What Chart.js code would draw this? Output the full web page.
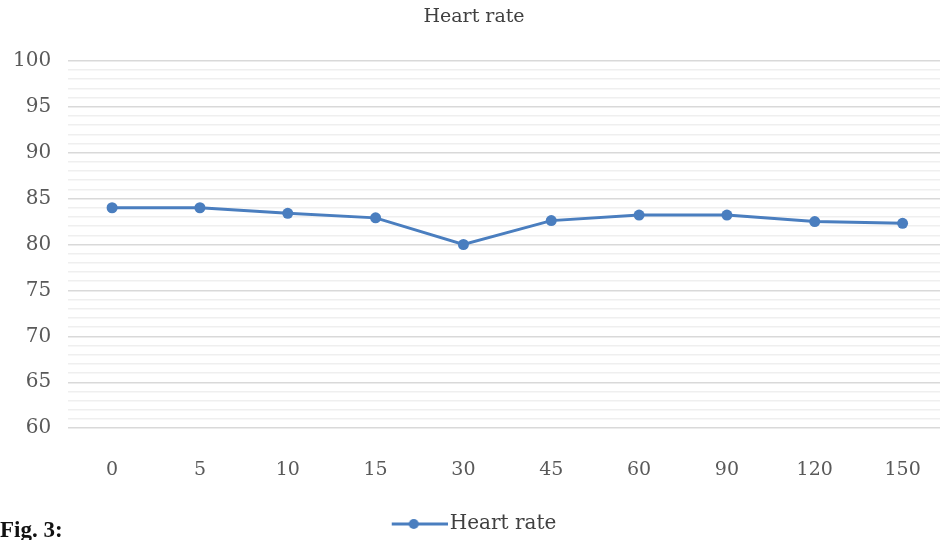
<!DOCTYPE html>
<html>
<head>
<meta charset="utf-8">
<script src="https://cdn.jsdelivr.net/npm/chart.js@4.4.0/dist/chart.umd.min.js"></script>
<style>
  html, body { margin: 0; padding: 0; background: #fff; overflow: hidden; }
  #wrap { position: relative; width: 940px; height: 540px; overflow: hidden; }
  #caption { position: absolute; left: 0; top: 517px; font: bold 23px "Liberation Serif", serif; color: #111; }
</style>
</head>
<body>
<div id="wrap">
  <canvas id="chart" width="952" height="540"></canvas>
  <div id="caption">Fig. 3:</div>
</div>
<script>
// données
const minutes = ['0', '5', '10', '15', '30', '45', '60', '90', '120', '150'];
const heartRate = [84.0, 84.0, 83.4, 82.9, 80.0, 82.6, 83.2, 83.2, 82.5, 82.3];
const yMin = 60;
const yMax = 100;

const lineColor = '#4a7ebf';

// petit symbole de légende : trait + rond
const legendIcon = document.createElement('canvas');
legendIcon.width = 64;
legendIcon.height = 12;
const ic = legendIcon.getContext('2d');
ic.strokeStyle = lineColor;
ic.lineWidth = 3;
ic.beginPath();
ic.moveTo(8, 6);
ic.lineTo(64, 6);
ic.stroke();
ic.fillStyle = lineColor;
ic.beginPath();
ic.arc(30, 6, 5, 0, Math.PI * 2);
ic.fill();

const ctx = document.getElementById('chart').getContext('2d');
const chart = new Chart(ctx, {
    type: 'line',
    data: {
        labels: minutes,
        datasets: [{
            label: 'Heart rate',
            data: heartRate,
            borderColor: lineColor,
            backgroundColor: lineColor,
            borderWidth: 3,
            pointRadius: 5.5,
            pointBackgroundColor: lineColor,
            pointBorderWidth: 0,
            tension: 0
        }]
    },
    options: {
        responsive: false,
        animation: false,
        layout: { padding: { left: -4, right: 0, top: 0, bottom: -4 } },
        plugins: {
            title: {
                display: true,
                text: 'Heart rate',
                color: '#404040',
                font: { family: 'DejaVu Serif', size: 19, weight: 'normal' },
                padding: { top: 6, bottom: 32 }
            },
            legend: {
                position: 'bottom',
                labels: {
                    usePointStyle: true,
                    pointStyle: legendIcon,
                    pointStyleWidth: 48,
                    color: '#404040',
                    padding: 3,
                    font: { family: 'DejaVu Serif', size: 20 }
                }
            },
            tooltip: { enabled: false }
        },
        scales: {
            x: {
                offset: true,
                grid: { display: false, drawTicks: false },
                border: { display: false },
                ticks: {
                    color: '#595959',
                    padding: 30,
                    font: { family: 'DejaVu Serif', size: 19 }
                }
            },
            y: {
                min: yMin,
                max: yMax,
                border: { display: false },
                grid: {
                    drawTicks: false,
                    lineWidth: 1.5,
                    color: (c) => (c.tick && c.tick.value % 5 === 0) ? '#d9d9d9' : '#efefef'
                },
                ticks: {
                    stepSize: 1,
                    autoSkip: false,
                    color: '#595959',
                    padding: 17,
                    font: { family: 'DejaVu Serif', size: 20 },
                    callback: (v) => (v % 5 === 0 ? v : '')
                }
            }
        }
    }
});
</script>
</body>
</html>
